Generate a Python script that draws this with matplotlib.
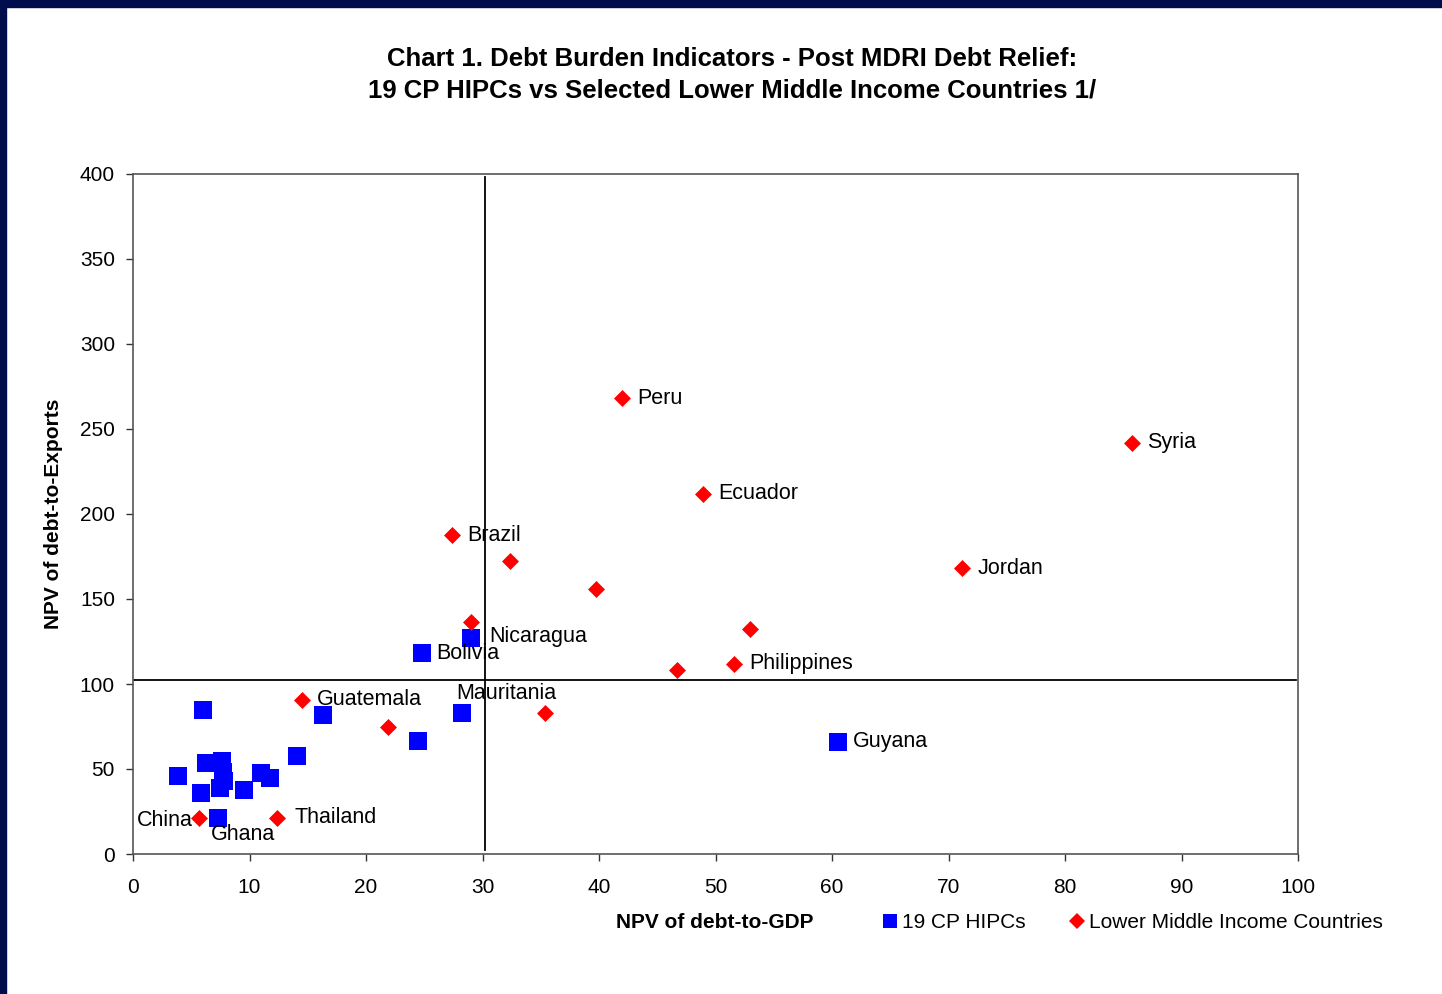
import numpy as np
import matplotlib.pyplot as plt
from matplotlib.patches import Rectangle
from matplotlib.lines import Line2D

plt.rcParams['font.family'] = ['Liberation Sans', 'DejaVu Sans']

# 19 CP HIPCs
hipc_x = [6.0, 16.3, 24.8, 29.0, 28.2, 24.5, 14.1, 60.5, 3.9, 5.8, 7.3,
          6.3, 7.6, 7.7, 7.5, 9.5, 11.0, 11.8, 7.8]
hipc_y = [84.7, 81.8, 118.0, 127.0, 83.0, 66.5, 57.6, 65.9, 45.9, 35.9, 21.2,
          53.5, 54.5, 48.0, 39.0, 37.6, 47.6, 44.7, 43.0]
hipc_names = {2: "Bolivia", 3: "Nicaragua", 4: "Mauritania", 7: "Guyana", 10: "Ghana"}

# lower middle income countries
lmic_x = [42.0, 85.75, 48.9, 27.4, 32.4, 39.7, 71.2, 53.0, 29.0, 51.6,
          46.7, 14.5, 21.9, 35.4, 5.7, 12.4]
lmic_y = [268.0, 241.8, 211.8, 187.6, 172.4, 155.9, 168.2, 132.4, 136.5, 111.8,
          108.2, 90.6, 74.7, 82.9, 21.2, 21.2]
lmic_names = {0: "Peru", 1: "Syria", 2: "Ecuador", 3: "Brazil", 6: "Jordan",
              9: "Philippines", 11: "Guatemala", 14: "China", 15: "Thailand"}

# label offsets in points (dx, dy, ha)
offsets = {"Bolivia": (10, 0, "left"), "Nicaragua": (13, 1, "left"),
           "Mauritania": (-4, 14, "left"), "Guyana": (11, 0, "left"),
           "Ghana": (-5, -12, "left"), "Peru": (11, 0, "left"),
           "Syria": (11, 0, "left"), "Ecuador": (11, 0, "left"),
           "Brazil": (11, 0, "left"), "Jordan": (11, 0, "left"),
           "Philippines": (11, 0, "left"), "Guatemala": (11, 0, "left"),
           "China": (-5, -2, "right"), "Thailand": (12, 0, "left")}

fig = plt.figure(figsize=(14.42, 9.94), dpi=100)
fig.patch.set_facecolor("white")
navy = "#000d4d"
fig.patches.append(Rectangle((0, 1 - 7 / 994), 1, 7 / 994, transform=fig.transFigure,
                             color=navy, zorder=0))
fig.patches.append(Rectangle((0, 0), 6 / 1442, 1, transform=fig.transFigure,
                             color=navy, zorder=0))

ax = fig.add_axes([133 / 1442, 1 - 854 / 994, (1298 - 133) / 1442, (854 - 174) / 994])

ax.axvline(30.2, ymin=0.006, ymax=0.995, color="black", lw=1.3, zorder=1)
ax.axhline(102.4, xmin=0, xmax=0.998, color="black", lw=1.3, zorder=1)

ax.scatter(hipc_x, hipc_y, marker="s", s=150, color="#0000ff", linewidths=0, zorder=3)
ax.scatter(lmic_x, lmic_y, marker="D", s=75, color="#ff0000", linewidths=0, zorder=3)

for i, nm in hipc_names.items():
    dx, dy, ha = offsets[nm]
    ax.annotate(nm, (hipc_x[i], hipc_y[i]), xytext=(dx, dy), textcoords="offset points",
                ha=ha, va="center", fontsize=15.5, zorder=4)
for i, nm in lmic_names.items():
    dx, dy, ha = offsets[nm]
    ax.annotate(nm, (lmic_x[i], lmic_y[i]), xytext=(dx, dy), textcoords="offset points",
                ha=ha, va="center", fontsize=15.5, zorder=4)

ax.set_xlim(0, 100)
ax.set_ylim(0, 400)
ax.set_xticks(np.arange(0, 101, 10))
ax.set_yticks(np.arange(0, 401, 50))
ax.tick_params(direction="out", length=5, width=1, labelsize=15, colors="#333333",
               labelcolor="black")
ax.tick_params(axis="x", pad=12)
ax.tick_params(axis="y", pad=8)
for sp in ax.spines.values():
    sp.set_color("#555555")
    sp.set_linewidth(1.2)

ax.set_ylabel("NPV of debt-to-Exports", fontsize=15, fontweight="bold", labelpad=12)
fig.text(715 / 1442, 1 - 922 / 994, "NPV of debt-to-GDP", ha="center", va="center",
         fontsize=15, fontweight="bold")

handles = [Line2D([], [], ls="none", marker="s", ms=10, color="#0000ff", mew=0),
           Line2D([], [], ls="none", marker="D", ms=8.5, color="#ff0000", mew=0)]
fig.legend(handles, ["19 CP HIPCs", "Lower Middle Income Countries"],
           loc="center left", bbox_to_anchor=(871 / 1442, 1 - 923 / 994), ncol=2,
           frameon=False, fontsize=15, handletextpad=0.1, columnspacing=1.95,
           borderaxespad=0, handlelength=1.0)

fig.text(732 / 1442, 1 - 75 / 994,
         "Chart 1. Debt Burden Indicators - Post MDRI Debt Relief:\n"
         "19 CP HIPCs vs Selected Lower Middle Income Countries 1/",
         ha="center", va="center", fontsize=18.5, fontweight="bold", linespacing=1.4)

fig.savefig("out.png", dpi=100)
